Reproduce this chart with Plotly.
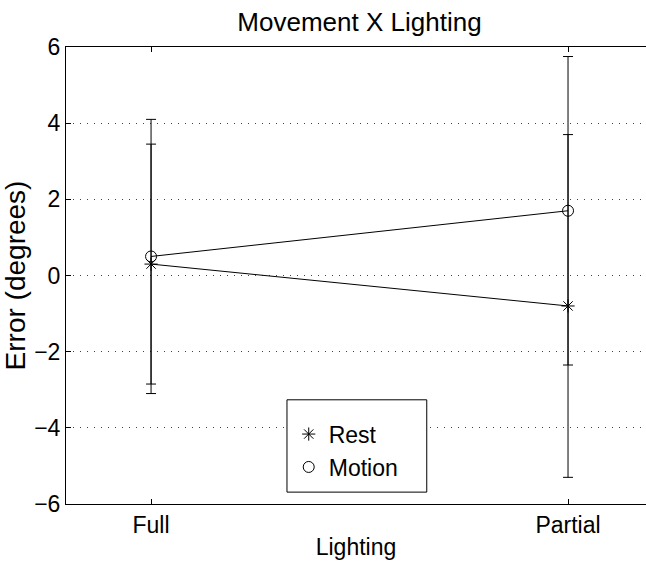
import plotly.graph_objects as go

# Mean pointing error (degrees) for each lighting condition
categories = ["Full", "Partial"]
x_pos = [1, 2]
rest_mean = [0.3, -0.8]
rest_err = [3.15, 4.5]
motion_mean = [0.5, 1.7]
motion_err = [3.6, 4.05]
y_ticks = [-6, -4, -2, 0, 2, 4, 6]
y_tick_text = ["\u22126", "\u22124", "\u22122", "0", "2", "4", "6"]

FONT = "Liberation Sans, Arial, Helvetica, sans-serif"

fig = go.Figure()


def err_bar(vals):
    return dict(type="data", array=vals, visible=True, color="black",
                thickness=1, width=5)


# Connecting lines (no legend entries)
for means in (rest_mean, motion_mean):
    fig.add_trace(go.Scatter(x=x_pos, y=means, mode="lines",
                             line=dict(color="black", width=1),
                             showlegend=False, hoverinfo="skip"))

fig.add_trace(go.Scatter(
    x=x_pos, y=rest_mean, mode="markers", name="Rest",
    marker=dict(symbol="asterisk-open", size=11, color="black",
                line=dict(color="black", width=1)),
    error_y=err_bar(rest_err)))
fig.add_trace(go.Scatter(
    x=x_pos, y=motion_mean, mode="markers", name="Motion",
    marker=dict(symbol="circle-open", size=11, color="black",
                line=dict(color="black", width=1)),
    error_y=err_bar(motion_err)))

fig.update_layout(
    width=646, height=563,
    margin=dict(l=66, r=0, t=47, b=59),
    paper_bgcolor="white", plot_bgcolor="white",
    font=dict(family=FONT, size=23, color="black"),
    title=dict(text="Movement X Lighting", xref="container", x=0.5565,
               xanchor="center", yref="container", y=0.961,
               yanchor="middle", font=dict(size=26)),
    legend=dict(x=0.384, y=0.2, xanchor="left", yanchor="top",
                borderwidth=0, bgcolor="rgba(0,0,0,0)",
                font=dict(size=23), tracegroupgap=0, itemwidth=30),
    # legend frame
    shapes=[dict(type="rect", xref="paper", yref="paper",
                 x0=0.381, x1=0.622, y0=0.026, y1=0.228,
                 line=dict(color="black", width=1),
                 fillcolor="white", layer="above")],
)

fig.update_xaxes(
    range=[0.796, 2.187], tickvals=x_pos, ticktext=categories,
    ticks="inside", ticklen=5, tickcolor="black",
    showline=True, linecolor="black", linewidth=1, mirror="ticks",
    showgrid=False, zeroline=False, automargin=False,
    title=dict(text="Lighting", standoff=2, font=dict(size=23)),
)
fig.update_yaxes(
    range=[-6, 6], tickvals=y_ticks, ticktext=y_tick_text,
    ticks="inside", ticklen=5, tickcolor="black",
    showline=True, linecolor="black", linewidth=1, mirror=False,
    showgrid=True, gridcolor="#444444", griddash="1px,6px", gridwidth=1,
    zeroline=False, automargin=False,
    title=dict(text="Error (degrees)", standoff=0, font=dict(size=28)),
)

fig.write_html("out.html")
